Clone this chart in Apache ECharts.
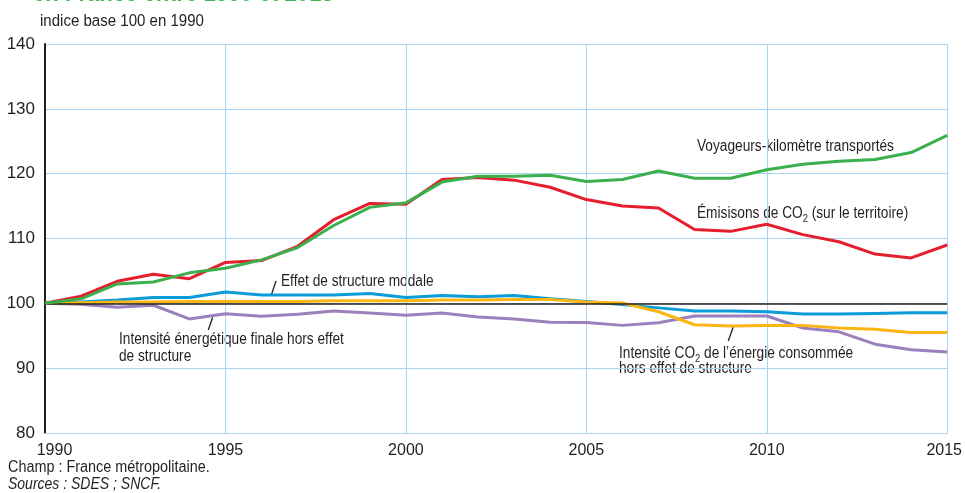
<!DOCTYPE html>
<html><head><meta charset="utf-8">
<script src="https://cdn.jsdelivr.net/npm/echarts@6/dist/echarts.min.js"></script>
<style>html,body{margin:0;padding:0;background:#fff;overflow:hidden}#c{width:965px;height:493px}</style>
</head><body><div id="c"></div>
<script>
const years = [1990,1991,1992,1993,1994,1995,1996,1997,1998,1999,2000,2001,2002,2003,2004,2005,2006,2007,2008,2009,2010,2011,2012,2013,2014,2015];
const voyageurs = [100,100.7,103.0,103.3,104.7,105.4,106.7,108.6,112.0,114.8,115.5,118.7,119.6,119.6,119.75,118.8,119.1,120.4,119.3,119.3,120.6,121.45,121.9,122.2,123.25,125.9];
const emissions = [100,101.1,103.4,104.5,103.8,106.3,106.6,108.8,112.9,115.4,115.3,119.1,119.4,119.0,117.9,116.0,115.0,114.7,111.4,111.1,112.2,110.6,109.5,107.6,107.0,109.0];
const structureModale = [100,100.2,100.5,100.9,100.9,101.75,101.3,101.3,101.3,101.5,100.9,101.2,101.0,101.2,100.7,100.3,99.8,99.3,98.8,98.8,98.7,98.35,98.35,98.45,98.55,98.55];
const intensiteCO2 = [100,100.1,100.2,100.2,100.3,100.3,100.3,100.3,100.4,100.4,100.4,100.5,100.5,100.6,100.6,100.2,100.05,98.7,96.7,96.5,96.6,96.6,96.2,96.0,95.5,95.5];
const intensiteEnergie = [100,99.85,99.4,99.7,97.6,98.4,98.0,98.3,98.8,98.5,98.15,98.5,97.9,97.6,97.1,97.05,96.6,97.0,98.05,98.05,98.05,96.2,95.6,93.7,92.85,92.5];
const yTicks = {min:80, max:140, interval:10};
const xTicks = {min:1990, max:2015, interval:5};

const FONT = "'Liberation Sans',Arial,sans-serif";
const pair = arr => years.map((y,i)=>[y,arr[i]]);
const mk = (name, arr, color, z) => ({
  name, type:'line', data: pair(arr), symbol:'none', z,
  lineStyle:{color, width:3}, itemStyle:{color}, animation:false
});

const chart = echarts.init(document.getElementById('c'), null, {renderer:'canvas', width:965, height:493});
const INK = '#231f20';
const txt = (x,y,text,sx=0.855,extra={}) => ({type:'text', x, y, scaleX:sx, style:Object.assign({text, x:0, y:0, fill:INK, font:'16px '+FONT, textVerticalAlign:'top'}, extra)});
const richTxt = (x,y,text,sx=0.855) => ({type:'text', x, y, scaleX:sx, style:{text, x:0, y:0, fill:INK, font:'16px '+FONT, textVerticalAlign:'top',
  rich:{s:{fontSize:11, fontFamily:FONT, fill:INK, padding:[9,0,0,0]}}}});
const ln = (x1,y1,x2,y2) => ({type:'line', shape:{x1,y1,x2,y2}, style:{stroke:INK, lineWidth:1.3}});

chart.setOption({
  animation:false,
  grid:{left:45, right:15, top:44, bottom:60, containLabel:false},
  xAxis:{type:'value', min:xTicks.min, max:xTicks.max, interval:xTicks.interval,
    axisLine:{show:true, lineStyle:{color:'#a9d5f2', width:1}},
    axisTick:{show:false},
    splitLine:{show:true, lineStyle:{color:'#a9d5f2', width:1}},
    axisLabel:{color:INK, fontSize:16, fontFamily:FONT, margin:10,
      formatter:v=> v===1990 ? '{f|'+v+'}' : (v===2015 ? '{l|'+v+'}' : String(v)),
      rich:{f:{fontSize:16, fontFamily:FONT, color:INK, padding:[0,0,0,19]},
            l:{fontSize:16, fontFamily:FONT, color:INK, padding:[0,6,0,0]}}}},
  yAxis:{type:'value', min:yTicks.min, max:yTicks.max, interval:yTicks.interval,
    axisLine:{show:true, lineStyle:{color:INK, width:2}},
    axisTick:{show:false},
    splitLine:{show:true, lineStyle:{color:'#a9d5f2', width:1}},
    axisLabel:{color:INK, fontSize:17, fontFamily:FONT, margin:10}},
  series:[
    Object.assign(mk('Intensité énergétique', intensiteEnergie, '#9b80bd', 2), {
      markLine:{silent:true, symbol:'none', label:{show:false}, animation:false,
        lineStyle:{color:INK, width:1.5, type:'solid'}, data:[{yAxis:100}]}}),
    mk('Effet de structure modale', structureModale, '#0a9bd9', 3),
    mk('Intensité CO2', intensiteCO2, '#fcb614', 4),
    mk('Émissions de CO2', emissions, '#e51e2e', 5),
    mk('Voyageurs-kilomètre', voyageurs, '#3aaf4c', 6)
  ],
  graphic:[
    {type:'text', x:33, y:-18, scaleX:0.92, z:100, style:{text:'en France entre 1990 et 2015', x:0, y:0, textVerticalAlign:'top', fill:'#3ab54a', font:'bold 24px '+FONT}},
    txt(40, 14, 'indice base 100 en 1990', 0.94),
    txt(697, 139, 'Voyageurs-kilomètre transportés'),
    richTxt(697, 204, 'Émisisons de CO{s|2} (sur le territoire)'),
    txt(281, 273.5, 'Effet de structure modale'),
    ln(276, 281, 271.5, 294.5),
    txt(119, 332, 'Intensité énergétique finale hors effet'),
    txt(119, 349, 'de structure'),
    ln(212.7, 317.3, 208.3, 330),
    richTxt(619, 344, 'Intensité CO{s|2} de l’énergie consommée'),
    txt(619, 361, 'hors effet de structure'),
    ln(733.3, 326.7, 728.3, 341),
    txt(8, 460, 'Champ : France métropolitaine.', 0.9),
    txt(8, 477, 'Sources : SDES ; SNCF.', 0.875, {font:'italic 16px '+FONT})
  ]
});
</script></body></html>
